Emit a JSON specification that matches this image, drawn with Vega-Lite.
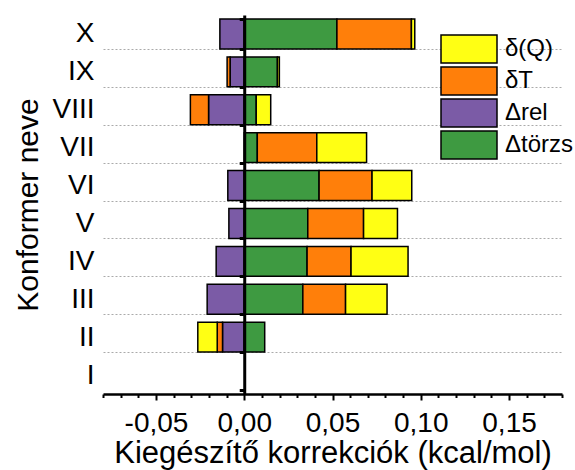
{
  "$schema": "https://vega.github.io/schema/vega-lite/v6.json",
  "width": 459,
  "height": 379,
  "autosize": {"type": "none"},
  "padding": {"left": 103, "top": 15, "right": 13, "bottom": 76},
  "background": "white",
  "config": {"view": {"stroke": null}, "font": "Liberation Sans"},
  "data": {"values": [
    {"konf": "X", "comp": "Δrel", "value": -0.0138},
    {"konf": "X", "comp": "Δtörzs", "value": 0.0525},
    {"konf": "X", "comp": "δT", "value": 0.0422},
    {"konf": "X", "comp": "δ(Q)", "value": 0.0019},
    {"konf": "IX", "comp": "Δrel", "value": -0.008},
    {"konf": "IX", "comp": "Δtörzs", "value": 0.0188},
    {"konf": "IX", "comp": "δT", "value": -0.0017},
    {"konf": "IX", "comp": "δ(Q)", "value": 0.0011},
    {"konf": "VIII", "comp": "Δrel", "value": -0.0202},
    {"konf": "VIII", "comp": "Δtörzs", "value": 0.0068},
    {"konf": "VIII", "comp": "δT", "value": -0.0103},
    {"konf": "VIII", "comp": "δ(Q)", "value": 0.0082},
    {"konf": "VII", "comp": "Δtörzs", "value": 0.0074},
    {"konf": "VII", "comp": "δT", "value": 0.0337},
    {"konf": "VII", "comp": "δ(Q)", "value": 0.0282},
    {"konf": "VI", "comp": "Δrel", "value": -0.0093},
    {"konf": "VI", "comp": "Δtörzs", "value": 0.0424},
    {"konf": "VI", "comp": "δT", "value": 0.030},
    {"konf": "VI", "comp": "δ(Q)", "value": 0.0225},
    {"konf": "V", "comp": "Δrel", "value": -0.0087},
    {"konf": "V", "comp": "Δtörzs", "value": 0.036},
    {"konf": "V", "comp": "δT", "value": 0.0316},
    {"konf": "V", "comp": "δ(Q)", "value": 0.0192},
    {"konf": "IV", "comp": "Δrel", "value": -0.0159},
    {"konf": "IV", "comp": "Δtörzs", "value": 0.0356},
    {"konf": "IV", "comp": "δT", "value": 0.0249},
    {"konf": "IV", "comp": "δ(Q)", "value": 0.0323},
    {"konf": "III", "comp": "Δrel", "value": -0.021},
    {"konf": "III", "comp": "Δtörzs", "value": 0.0332},
    {"konf": "III", "comp": "δT", "value": 0.0242},
    {"konf": "III", "comp": "δ(Q)", "value": 0.0235},
    {"konf": "II", "comp": "Δrel", "value": -0.0123},
    {"konf": "II", "comp": "Δtörzs", "value": 0.0116},
    {"konf": "II", "comp": "δT", "value": -0.003},
    {"konf": "II", "comp": "δ(Q)", "value": -0.011}
  ]},
  "transform": [
    {"calculate": "indexof(['Δrel','Δtörzs','δT','δ(Q)'], datum.comp)", "as": "ord"}
  ],
  "layer": [
    {
      "mark": {"type": "bar", "stroke": "black", "strokeWidth": 1.5},
      "encoding": {
        "y": {
          "field": "konf", "type": "nominal",
          "scale": {"domain": ["X","IX","VIII","VII","VI","V","IV","III","II","I"], "paddingInner": 0.21, "paddingOuter": 0.105},
          "axis": {
            "title": "Konformer neve", "titleFontSize": 30, "titleFontWeight": "normal", "titleColor": "black",
            "titleX": -66, "titleY": 189.5, "titleAngle": -90, "titleAlign": "center", "titleBaseline": "alphabetic",
            "labelFontSize": 28, "labelColor": "black", "labelPadding": 9,
            "ticks": false, "domain": false,
            "grid": true, "gridDash": [2, 2], "gridColor": "#aaaaaa", "gridWidth": 1,
            "tickBand": "extent",
            "gridOpacity": {"condition": {"test": "datum.extra || datum.value === 'I'", "value": 0}, "value": 1}
          }
        },
        "x": {
          "field": "value", "type": "quantitative", "stack": "zero",
          "scale": {"domain": [-0.08, 0.18], "nice": false, "zero": false},
          "axis": {
            "orient": "bottom",
            "values": [-0.05, 0, 0.05, 0.1, 0.15],
            "labelExpr": "replace(replace(format(datum.value, '.2f'), '.', ','), '−', '-')",
            "labelFontSize": 28, "labelColor": "black", "labelBaseline": "alphabetic", "labelPadding": 31,
            "tickSize": 6, "tickWidth": 2, "tickColor": "black",
            "domainColor": "black", "domainWidth": 2.5, "grid": false,
            "title": "Kiegészítő korrekciók (kcal/mol)", "titleFontSize": 31, "titleFontWeight": "normal", "titleColor": "black",
            "titleY": 68, "titleBaseline": "alphabetic", "zindex": 1
          }
        },
        "color": {
          "field": "comp", "type": "nominal",
          "scale": {"domain": ["δ(Q)", "δT", "Δrel", "Δtörzs"], "range": ["#FFFF14", "#FF7F0A", "#7B5BA6", "#3E9A41"]},
          "legend": {
            "title": null, "orient": "none", "legendX": 337, "legendY": 19,
            "symbolType": "M-1,-0.5H1V0.5H-1Z", "symbolSize": 3136,
            "symbolStrokeColor": "black", "symbolStrokeWidth": 1.5, "symbolOpacity": 1,
            "labelFontSize": 24, "labelColor": "black", "labelOffset": 7, "labelLimit": 200,
            "clipHeight": 30, "rowPadding": 2, "padding": 0
          }
        },
        "order": {"field": "ord", "type": "quantitative"}
      }
    },
    {
      "mark": {"type": "point", "opacity": 0},
      "encoding": {
        "y": {
          "field": "konf", "type": "nominal",
          "scale": {"domain": ["X","IX","VIII","VII","VI","V","IV","III","II","I"], "paddingInner": 0.21, "paddingOuter": 0.105},
          "axis": {
            "orient": "left", "offset": -141.23, "labels": false, "grid": false, "title": null,
            "domainColor": "black", "domainWidth": 3,
            "tickBand": "extent", "ticks": true, "tickSize": 5, "tickWidth": 3, "tickColor": "black", "zindex": 2
          }
        },
        "x": {
          "field": "value", "type": "quantitative",
          "scale": {"domain": [-0.08, 0.18], "nice": false, "zero": false},
          "axis": {
            "orient": "bottom",
            "values": [-0.08,-0.07,-0.06,-0.04,-0.03,-0.02,-0.01,0.01,0.02,0.03,0.04,0.06,0.07,0.08,0.09,0.11,0.12,0.13,0.14,0.16,0.17,0.18],
            "labels": false, "domain": false, "tickSize": 3.5, "tickWidth": 2, "tickColor": "black",
            "title": null, "grid": false, "zindex": 1
          }
        }
      }
    }
  ],
  "resolve": {"axis": {"x": "independent", "y": "independent"}}
}
